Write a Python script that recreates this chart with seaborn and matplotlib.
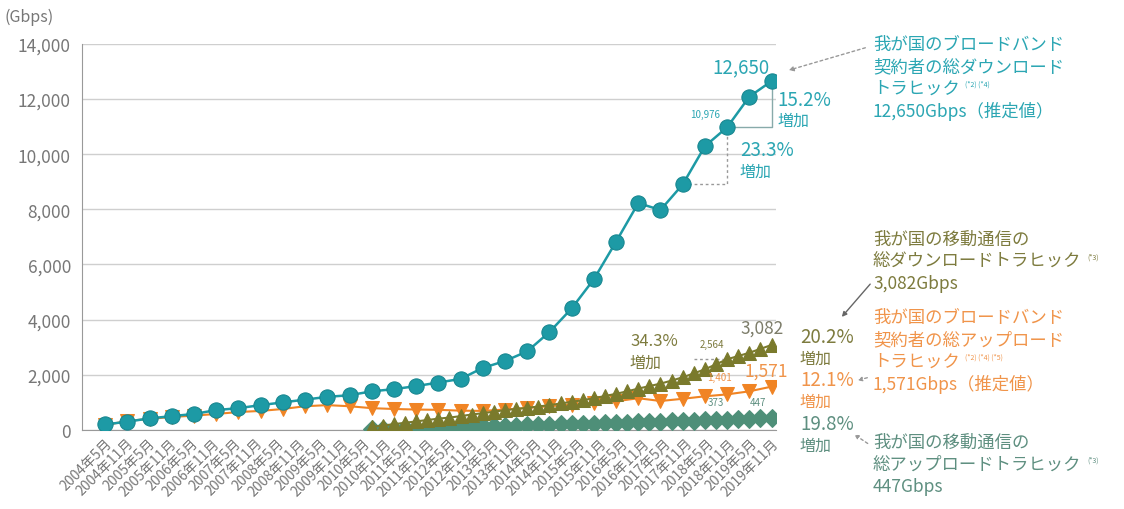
import numpy as np
import pandas as pd
import matplotlib
matplotlib.use("Agg")
import matplotlib.pyplot as plt
import seaborn as sns

# ---------------- data ----------------
x_labels = ["2004年5月", "2004年11月"] + [f"{y}年{m}月" for y in range(2005, 2020) for m in (5, 11)]

# broadband (semi-annual, 2004/11 .. 2019/11)
bb_down = [200, 300, 420, 500, 580, 720, 790, 900, 1000, 1100, 1200, 1260, 1400, 1480,
           1590, 1720, 1850, 2250, 2500, 2850, 3549, 4406, 5465, 6826, 8226, 7977,
           8903, 10289, 10976, 12086, 12650]
bb_up = [170, 330, 400, 470, 520, 580, 650, 690, 760, 860, 900, 860, 790, 760, 740,
         730, 700, 690, 740, 800, 860, 920, 980, 1040, 1150, 1050, 1130, 1220, 1290,
         1401, 1571]

# mobile (quarterly, 2010/12 .. 2019/12)
mob_down = [110, 160, 210, 260, 310, 360, 410, 450, 500, 560, 610, 660, 720, 760, 800,
            850, 900, 960, 1020, 1080, 1150, 1230, 1310, 1400, 1500, 1590, 1680, 1790,
            1909, 2050, 2200, 2380, 2564, 2680, 2800, 2940, 3082]
mob_up = [30, 40, 50, 60, 70, 80, 90, 100, 110, 120, 130, 140, 150, 160, 170, 180, 190,
          200, 210, 220, 230, 240, 255, 265, 280, 290, 300, 315, 330, 340, 350, 360,
          373, 390, 405, 425, 447]

C_TEAL = "#1d9aa5"
C_ORANGE = "#f08424"
C_OLIVE = "#7a7a2c"
C_GREEN = "#4e8f78"
C_TXT_TEAL = "#2ba6b3"
C_TXT_OLIVE = "#7d7b3e"
C_TXT_ORANGE = "#f0944a"
C_TXT_GREEN = "#5e8f80"
C_GREY = "#777777"

sns.set_style("white")
plt.rcParams["font.family"] = ["Noto Sans CJK JP", "DejaVu Sans"]

fig = plt.figure(figsize=(11.24, 5.10), dpi=100)
ax = fig.add_axes([0.073, 0.155, 0.617, 0.757])

bb_x = np.arange(len(bb_down))
mob_x = 12 + 0.5 * np.arange(len(mob_down))

df_bb = pd.DataFrame({"x": bb_x, "down": bb_down, "up": bb_up})
df_mob = pd.DataFrame({"x": mob_x, "down": mob_down, "up": mob_up})

sns.lineplot(data=df_mob, x="x", y="up", ax=ax, color=C_GREEN, marker="D",
             markersize=9.5, markeredgecolor=C_GREEN, lw=1.5, zorder=3)
sns.lineplot(data=df_bb, x="x", y="up", ax=ax, color=C_ORANGE, marker="v",
             markersize=10, markeredgecolor=C_ORANGE, lw=1.5, zorder=4)
sns.lineplot(data=df_mob, x="x", y="down", ax=ax, color=C_OLIVE, marker="^",
             markersize=9.5, markeredgecolor=C_OLIVE, lw=1.5, zorder=5)
sns.lineplot(data=df_bb, x="x", y="down", ax=ax, color=C_TEAL, marker="o",
             markersize=11, markeredgecolor="#17868f", lw=1.8, zorder=6)

ax.set_xlim(-1.04, 30.18)
ax.set_ylim(0, 14000)
ax.set_yticks(np.arange(0, 14001, 2000))
ax.set_yticklabels([f"{v:,}" for v in range(0, 14001, 2000)], fontsize=12.5, color=C_GREY)
ax.yaxis.grid(True, color="#cfcfcf", lw=1)
ax.set_axisbelow(True)

lab_pos = np.linspace(0, 30, len(x_labels))
ax.set_xticks(lab_pos)
ax.set_xticklabels(x_labels, rotation=45, ha="right", rotation_mode="anchor",
                   fontsize=10, color=C_GREY)
ax.tick_params(axis="x", length=0, pad=4)
ax.tick_params(axis="y", length=0, pad=8)
step = lab_pos[1] - lab_pos[0]
ax.set_xticks(lab_pos - step / 2, minor=True)
ax.tick_params(axis="x", which="minor", direction="in", length=5, color="#888888")
ax.set_xlabel("")
ax.set_ylabel("")
for s in ["top", "right"]:
    ax.spines[s].set_visible(False)
for s in ["left", "bottom"]:
    ax.spines[s].set_color("#999999")

fig.text(0.004, 0.965, "(Gbps)", fontsize=11.5, color=C_GREY, va="center")

def px(xp, yp):
    return (xp / 1124, 1 - yp / 510)

# value labels
fig.text(*px(712, 68), "12,650", fontsize=13.5, color=C_TXT_TEAL, va="center")
fig.text(*px(690, 115), "10,976", fontsize=7, color=C_TXT_TEAL, va="center")
fig.text(*px(740, 329), "3,082", fontsize=12.5, color="#7d7d6a", va="center")
fig.text(*px(700, 345), "2,564", fontsize=7, color=C_TXT_OLIVE, va="center")
fig.text(*px(745, 372), "1,571", fontsize=12.5, color=C_TXT_ORANGE, va="center")
fig.text(*px(707, 378), "1,401", fontsize=7, color=C_TXT_ORANGE, va="center")
fig.text(*px(708, 403), "373", fontsize=7, color=C_TXT_GREEN, va="center")
fig.text(*px(750, 403), "447", fontsize=7, color=C_TXT_GREEN, va="center")

# percentages
def pct(xp, yp, t, c, fs=13.5):
    fig.text(*px(xp, yp), t, fontsize=fs, color=c, va="center")
    fig.text(*px(xp, yp + 21), "増加", fontsize=11.5, color=c, va="center")

pct(777, 100, "15.2%", C_TXT_TEAL)
pct(740, 151, "23.3%", C_TXT_TEAL)
pct(630, 342, "34.3%", C_TXT_OLIVE, fs=12)
pct(800, 338, "20.2%", C_TXT_OLIVE)
pct(800, 381, "12.1%", C_TXT_ORANGE)
pct(800, 425, "19.8%", C_TXT_GREEN)

# brackets (in data coords)
ax.plot([28, 30, 30], [10976, 10976, 12650], color="#8aa", lw=1, clip_on=False)
ax.plot([26, 28, 28], [8903, 8903, 10976], color="#999", lw=1, ls=(0, (2, 2)), clip_on=False)
ax.plot([26.5, 28.2], [2564, 2564], color="#999", lw=1, ls=(0, (2, 2)), clip_on=False)

# series descriptions
def block(xp, yp, lines, c, note=None, note_line=2, gap=22):
    for k, t in enumerate(lines):
        tx = fig.text(*px(xp, yp + k * gap), t, fontsize=12.5, color=c, va="center")
        if note is not None and k == note_line:
            fig.canvas.draw()
            ax.annotate(note, xy=(1, 0.75), xycoords=tx, xytext=(4, 0),
                        textcoords="offset points", fontsize=5, color=c, va="center")

block(873, 45, ["我が国のブロードバンド", "契約者の総ダウンロード", "トラヒック", "12,650Gbps（推定値）"],
      C_TXT_TEAL, note="(*2) (*4)")
block(873, 240, ["我が国の移動通信の", "総ダウンロードトラヒック", "3,082Gbps"], C_TXT_OLIVE,
      note="(*3)", note_line=1)
block(873, 318, ["我が国のブロードバンド", "契約者の総アップロード", "トラヒック", "1,571Gbps（推定値）"],
      C_TXT_ORANGE, note="(*2) (*4) (*5)")
block(873, 443, ["我が国の移動通信の", "総アップロードトラヒック", "447Gbps"], C_TXT_GREEN,
      note="(*3)", note_line=1)

# pointer lines
fig.add_artist(matplotlib.patches.FancyArrowPatch(px(868, 48), px(786, 72), transform=fig.transFigure,
               arrowstyle="-|>", mutation_scale=7, color="#999", lw=1, ls=(0, (2, 2))))
fig.add_artist(matplotlib.patches.FancyArrowPatch(px(872, 283), px(840, 320), transform=fig.transFigure,
               arrowstyle="-|>", mutation_scale=7, color="#666", lw=1))
fig.add_artist(matplotlib.patches.FancyArrowPatch(px(870, 378), px(855, 382), transform=fig.transFigure,
               arrowstyle="-|>", mutation_scale=6, color="#999", lw=1, ls=(0, (2, 2))))
fig.add_artist(matplotlib.patches.FancyArrowPatch(px(870, 446), px(852, 434), transform=fig.transFigure,
               arrowstyle="-|>", mutation_scale=6, color="#999", lw=1, ls=(0, (2, 2))))

fig.savefig("out.png", dpi=100)
